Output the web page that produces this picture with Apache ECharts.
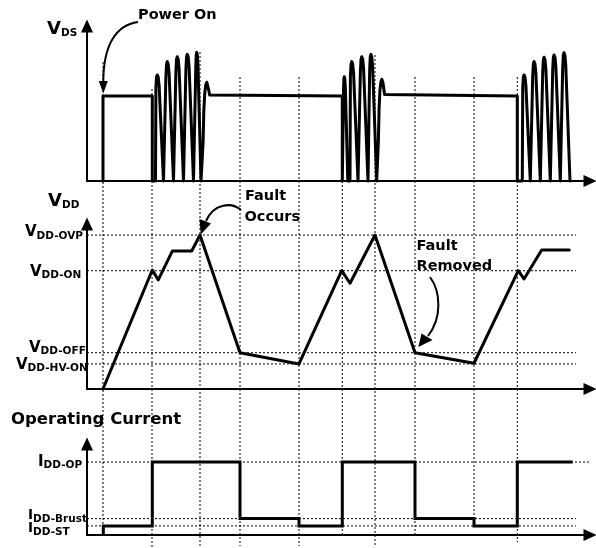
<!DOCTYPE html>
<html><head><meta charset="utf-8">
<script src="https://cdn.jsdelivr.net/npm/echarts@6/dist/echarts.min.js"></script>
<style>html,body{margin:0;padding:0;background:#fff}#c{width:596px;height:548px}</style>
</head><body><div id="c"></div>
<script>
// ---------------- data (time in arbitrary units, levels in % of panel axis) ----------------
const eventTimes = [16, 65, 113, 153, 212, 255.3, 288, 328, 387, 430.3];

const vdsPlateau = 54.8;
const burst1Rise = [68.5, 78.5, 88.5, 98.5, 108.5];
const burst1Peak = [68.4, 77.0, 80.2, 81.7, 83.0];
const burst1Width = [8, 8, 8, 8, 5.5];
const burst2Rise = [256.3, 263, 273, 282.3];
const burst2Peak = [67.3, 77.0, 80.2, 81.7];
const burst2Width = [4.5, 8, 8, 7.4];
const burst3Rise = [435.3, 445.3, 455.3, 465.3, 475.3];
const burst3Peak = [68.4, 77.0, 79.8, 81.3, 82.8];
const burst3Width = [8, 8, 8, 8, 7.7];
const ring1 = [[115.7,0],[116.1,25],[116.8,45],[117.8,57],[118.8,62],[119.8,63.7],[120.8,62.5],[121.8,58.5],[122.6,55.5],[123.2,54.8]];
const ring2 = [[291,0],[291.4,26],[292.1,47],[293,59],[294,64],[294.8,65.6],[295.8,64],[296.8,59.5],[297.6,55.8],[298.2,54.8]];

const vddOVP = 93.3, vddON = 71.7, vddOFF = 22.0, vddHVON = 15.2;
const vddPoints = [
  [16,0],[65.3,72.1],[71.3,66.1],[85.3,83.6],[104.7,83.6],[113,93.3],
  [153,22.0],[212,15.2],[254.7,71.7],[263,64.1],[288,93.3],
  [328,22.0],[387,15.6],[431.3,71.7],[437,66.7],[454.7,84.2],[482.3,84.2]
];

const idOP = 80.2, idBrust = 18, idST = 10;
const currentEdges = [16.3, 65.3, 153, 212, 255.3, 328, 387, 430.3, 485.7];
const currentLevels = [idST, idOP, idBrust, idST, idOP, idBrust, idST, idOP];

// ---------------- layout / style ----------------
const FONT = 'DejaVu Sans';
const pulseShape = [[0,0],[0.05,0.88],[0.13,0.98],[0.22,1],[0.34,0.98],[0.45,0.9],[1,0]];
const vStart = [62, 89, 52, 77, 77, 181, 55, 77, 77, 77];
const vEnd   = [535, 548, 548, 546, 546, 535, 547, 534, 526, 542];

function addBurst(pts, rises, peaks, widths) {
  rises.forEach((r, i) => {
    pulseShape.forEach(([dx, f]) => pts.push([r + dx * widths[i], f * peaks[i]]));
  });
}
const P = vdsPlateau;
const vds = [[16,0],[16,P],[65.3,P],[65.3,0]];
addBurst(vds, burst1Rise, burst1Peak, burst1Width);
ring1.forEach(p => vds.push(p));
vds.push([255.3,P],[255.3,0]);
addBurst(vds, burst2Rise, burst2Peak, burst2Width);
ring2.forEach(p => vds.push(p));
vds.push([430.3,P],[430.3,0]);
addBurst(vds, burst3Rise, burst3Peak, burst3Width);

const current = [[currentEdges[0], 0]];
currentLevels.forEach((lv, i) => { current.push([currentEdges[i], lv], [currentEdges[i+1], lv]); });

const grids = [
  {left: 87, right: 6, top: 26, bottom: 367},
  {left: 87, right: 6, top: 224, bottom: 159},
  {left: 87, right: 6, top: 444, bottom: 13},
  {left: 87, right: 6, top: 0, bottom: 0}
];
const axLine = {show: true, onZero: true, symbol: ['none','triangle'], symbolSize: [12, 13],
  lineStyle: {color: '#000', width: 2}};
const xAxes = [0,1,2].map(i => ({type: 'value', gridIndex: i, min: 0, max: 503, axisLine: axLine,
  axisTick: {show: false}, axisLabel: {show: false}, splitLine: {show: false}}));
xAxes.push({type: 'value', gridIndex: 3, min: 0, max: 503, show: false});
const yAxes = [0,1,2].map(i => ({type: 'value', gridIndex: i, min: 0, max: 100, axisLine: axLine,
  axisTick: {show: false}, axisLabel: {show: false}, splitLine: {show: false}}));
yAxes.push({type: 'value', gridIndex: 3, min: 0, max: 548, inverse: true, show: false});

const dotted = {color: '#000', width: 1, type: [2, 2]};
const series = [];
eventTimes.forEach((t, i) => series.push({
  type: 'line', xAxisIndex: 3, yAxisIndex: 3, symbol: 'none', silent: true, z: 1, clip: false,
  lineStyle: dotted, data: [[t, vStart[i]], [t, vEnd[i]]]
}));
[[1, vddOVP, 489], [1, vddON, 489], [1, vddOFF, 489], [1, vddHVON, 489],
 [2, idOP, 509], [2, idBrust, 489], [2, idST, 489]].forEach(([g, lv, end]) => series.push({
  type: 'line', xAxisIndex: g, yAxisIndex: g, symbol: 'none', silent: true, z: 1, clip: false,
  lineStyle: dotted, data: [[0, lv], [end, lv]]
}));
const sig = {color: '#000', width: 3, join: 'round', cap: 'round'};
series.push({type: 'line', xAxisIndex: 0, yAxisIndex: 0, symbol: 'none', z: 3, clip: false, lineStyle: sig, data: vds});
series.push({type: 'line', xAxisIndex: 1, yAxisIndex: 1, symbol: 'none', z: 3, clip: false, lineStyle: Object.assign({}, sig, {width: 3}), data: vddPoints});
series.push({type: 'line', xAxisIndex: 2, yAxisIndex: 2, symbol: 'none', z: 3, clip: false, lineStyle: Object.assign({}, sig, {width: 3, cap: 'butt', join: 'miter'}), data: current});

function richText(x, y, main, sub, mainSize, subSize) {
  return {type: 'text', x: x, y: y, z: 10, style: {
    text: '{a|' + main + '}{b|' + sub + '}', align: 'left', verticalAlign: 'middle',
    rich: {
      a: {fontFamily: FONT, fontWeight: 'bold', fontSize: mainSize, lineHeight: mainSize, fill: '#000'},
      b: {fontFamily: FONT, fontWeight: 'bold', fontSize: subSize, lineHeight: 10, padding: [7, 0, 0, 0], fill: '#000'}
    }}};
}
function plain(x, y, text, size) {
  return {type: 'text', x: x, y: y, z: 10, style: {text: text, fontFamily: FONT, fontWeight: 'bold',
    fontSize: size, fill: '#000', align: 'left', verticalAlign: 'middle'}};
}
const arrowStyle = {stroke: '#000', lineWidth: 2, fill: null};
const graphics = [
  richText(47, 29.5, 'V', 'DS', 18, 10.5),
  richText(48, 201.7, 'V', 'DD', 18, 10.5),
  plain(11, 420, 'Operating Current', 16.5),
  plain(138, 15, 'Power On', 14.5),
  plain(245, 196.7, 'Fault', 14.5),
  plain(244.5, 217, 'Occurs', 14.5),
  plain(416.5, 246.7, 'Fault', 14.5),
  plain(416.5, 266, 'Removed', 14.5),
  {type: 'bezierCurve', z: 10, shape: {x1: 138, y1: 22, cpx1: 116, cpy1: 25, cpx2: 103.3, cpy2: 45, x2: 103.3, y2: 82}, style: arrowStyle},
  {type: 'polygon', z: 10, shape: {points: [[98.8, 81], [107.8, 81], [103.3, 93.5]]}, style: {fill: '#000'}},
  {type: 'bezierCurve', z: 10, shape: {x1: 241, y1: 210, cpx1: 232, cpy1: 202, cpx2: 214, cpy2: 203, x2: 206, y2: 221}, style: arrowStyle},
  {type: 'polygon', z: 10, shape: {points: [[199.5, 219], [211, 223.5], [200.8, 234.5]]}, style: {fill: '#000'}},
  {type: 'bezierCurve', z: 10, shape: {x1: 430, y1: 277, cpx1: 441, cpy1: 292, cpx2: 442, cpy2: 318, x2: 428, y2: 336}, style: arrowStyle},
  {type: 'polygon', z: 10, shape: {points: [[421.5, 333.5], [432.5, 340], [418.3, 347]]}, style: {fill: '#000'}}
];

const chart = echarts.init(document.getElementById('c'), null, {renderer: 'canvas'});
chart.setOption({animation: false, backgroundColor: '#fff', grid: grids, xAxis: xAxes, yAxis: yAxes, series: series});

const levelLabels = [
  {g: 1, lv: vddOVP, x: 25, dy: -2.5, main: 'V', sub: 'DD-OVP', size: 15},
  {g: 1, lv: vddON, x: 30, dy: 1, main: 'V', sub: 'DD-ON', size: 15},
  {g: 1, lv: vddOFF, x: 29, dy: -5, main: 'V', sub: 'DD-OFF', size: 15},
  {g: 1, lv: vddHVON, x: 16, dy: 1, main: 'V', sub: 'DD-HV-ON', size: 15},
  {g: 2, lv: idOP, x: 38, dy: 0, main: 'I', sub: 'DD-OP', size: 15},
  {g: 2, lv: idBrust, x: 28, dy: -3, main: 'I', sub: 'DD-Brust', size: 13.5},
  {g: 2, lv: idST, x: 28, dy: 3, main: 'I', sub: 'DD-ST', size: 13.5}
];
levelLabels.forEach(l => {
  const py = chart.convertToPixel({gridIndex: l.g}, [0, l.lv])[1];
  graphics.push(richText(l.x, py + l.dy, l.main, l.sub, l.size, 10.5));
});
chart.setOption({graphic: graphics});
</script></body></html>
